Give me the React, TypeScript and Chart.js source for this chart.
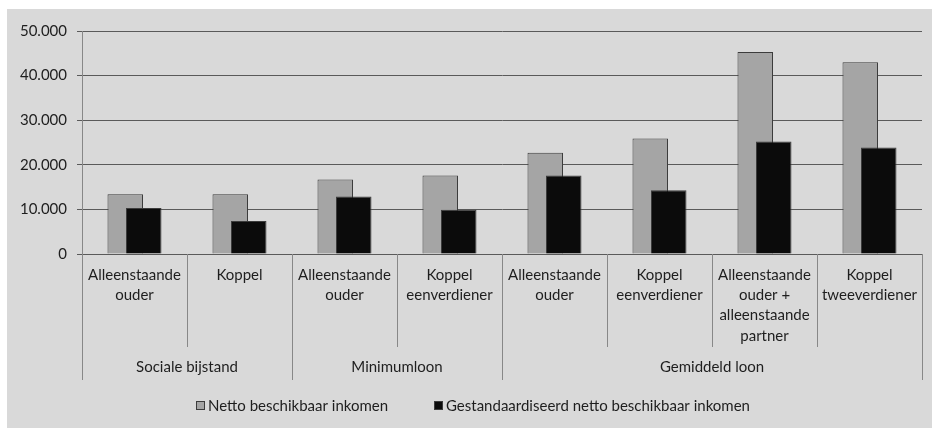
import React, { useEffect, useRef } from "react";
import { Chart, registerables } from "chart.js";

Chart.register(...registerables);

const categoryLabels: string[][] = [
  ["Alleenstaande", "ouder"],
  ["Koppel"],
  ["Alleenstaande", "ouder"],
  ["Koppel", "eenverdiener"],
  ["Alleenstaande", "ouder"],
  ["Koppel", "eenverdiener"],
  ["Alleenstaande", "ouder +", "alleenstaande", "partner"],
  ["Koppel", "tweeverdiener"],
];
const groupLabels = ["Sociale bijstand", "Minimumloon", "Gemiddeld loon"];
const groupSizes = [2, 2, 4];
const seriesNames = ["Netto beschikbaar inkomen", "Gestandaardiseerd netto beschikbaar inkomen"];
const nettoValues = [13400, 13400, 16700, 17600, 22700, 25900, 45300, 43000];
const standardValues = [10300, 7400, 12900, 9900, 17600, 14300, 25200, 23900];
const yMin = 0;
const yMax = 50000;
const yStep = 10000;

const FONT = "Lato";
const TEXT = "#1e1e1e";
const GRAY_FILL = "#a5a5a5";
const BLACK_FILL = "#0b0b0b";
const BAR_BORDER = "#3c3c3c";
const SEP = "#888888";

function fmt(v: number): string {
  return String(v).replace(/\B(?=(\d{3})+(?!\d))/g, ".");
}

const backgroundPlugin = {
  id: "bgPanel",
  beforeDraw(chart: any) {
    const { ctx, width, height } = chart;
    ctx.save();
    ctx.fillStyle = "#ffffff";
    ctx.fillRect(0, 0, width, height);
    ctx.fillStyle = "#d9d9d9";
    ctx.fillRect(7, 9, width - 7, height - 9);
    ctx.restore();
  },
};

// draw datasets in index order so the second (black) series overlaps the first
const drawOrderPlugin = {
  id: "drawOrder",
  beforeDatasetsDraw(chart: any) {
    const n = chart.data.datasets.length;
    for (let i = 0; i < n; i++) {
      const meta = chart.getDatasetMeta(i);
      if (meta.visible !== false && !meta.hidden) meta.controller.draw();
    }
    return false;
  },
};

const axisPlugin = {
  id: "multiLevelAxis",
  afterDraw(chart: any) {
    const { ctx, chartArea } = chart;
    const xs = chart.scales.x;
    const n = categoryLabels.length;
    const centers = categoryLabels.map((_, i) => xs.getPixelForValue(i));
    const half = (centers[1] - centers[0]) / 2;
    const edge = (i: number) => (i === 0 ? centers[0] - half : i === n ? centers[n - 1] + half : (centers[i - 1] + centers[i]) / 2);
    const base = chartArea.bottom;

    // group boundaries
    const groupEdges: number[] = [0];
    groupSizes.forEach((s) => groupEdges.push(groupEdges[groupEdges.length - 1] + s));

    ctx.save();
    ctx.strokeStyle = SEP;
    ctx.lineWidth = 1;
    for (let i = 0; i <= n; i++) {
      const isGroup = groupEdges.includes(i);
      const x = Math.round(edge(i)) + 0.5;
      ctx.beginPath();
      ctx.moveTo(x, base);
      ctx.lineTo(x, base + (isGroup ? 126 : 93));
      ctx.stroke();
    }

    ctx.fillStyle = TEXT;
    ctx.textAlign = "center";
    ctx.textBaseline = "middle";
    ctx.font = `15px ${FONT}`;
    categoryLabels.forEach((lines, i) => {
      lines.forEach((line, j) => {
        ctx.fillText(line, centers[i], base + 21 + j * 20.3);
      });
    });
    groupLabels.forEach((g, k) => {
      const x = (edge(groupEdges[k]) + edge(groupEdges[k + 1])) / 2;
      ctx.fillText(g, x, base + 113);
    });

    // legend
    ctx.font = `15px ${FONT}`;
    ctx.textAlign = "left";
    const ly = 405.5;
    const items = [
      { x: 196, fill: GRAY_FILL },
      { x: 434, fill: BLACK_FILL },
    ];
    items.forEach((it, i) => {
      ctx.fillStyle = it.fill;
      ctx.fillRect(it.x, ly - 4.5, 9, 9);
      ctx.strokeStyle = BAR_BORDER;
      ctx.strokeRect(it.x + 0.5, ly - 4, 8, 8);
      ctx.fillStyle = TEXT;
      ctx.fillText(chart.data.datasets[i].label, it.x + 12, ly + 0.5);
    });
    ctx.restore();
  },
};

export default function App() {
  const ref = useRef<HTMLCanvasElement | null>(null);
  useEffect(() => {
    document.body.style.margin = "0";
    const canvas = ref.current;
    if (!canvas) return;
    const chart = new Chart(canvas, {
      type: "bar",
      data: {
        labels: categoryLabels,
        datasets: [
          {
            label: seriesNames[0],
            data: nettoValues,
            backgroundColor: GRAY_FILL,
            borderColor: BAR_BORDER,
            borderWidth: 1,
          },
          {
            label: seriesNames[1],
            data: standardValues,
            backgroundColor: BLACK_FILL,
            borderColor: BAR_BORDER,
            borderWidth: 1,
          },
        ],
      },
      options: {
        responsive: false,
        animation: false,
        devicePixelRatio: 1,
        layout: { padding: { left: 0, top: 31, right: 10, bottom: 174 } },
        datasets: {
          bar: { categoryPercentage: 0.3524, barPercentage: 1.92 },
        },
        scales: {
          x: {
            display: false,
            offset: true,
          },
          y: {
            min: yMin,
            max: yMax,
            afterFit(scale: any) {
              scale.width = 82;
            },
            ticks: {
              stepSize: yStep,
              padding: 10,
              color: TEXT,
              font: { family: FONT, size: 15 },
              callback: (v: any) => fmt(Number(v)),
            },
            grid: {
              color: "#5a5a5a",
              lineWidth: 1,
              tickLength: 5,
            },
            border: { color: SEP, width: 1 },
          },
        },
        plugins: {
          legend: { display: false },
          tooltip: { enabled: false },
        },
      },
      plugins: [backgroundPlugin, drawOrderPlugin, axisPlugin],
    });
    return () => chart.destroy();
  }, []);
  return (
    <div style={{ width: 932, height: 428 }}>
      <canvas ref={ref} width={932} height={428} style={{ width: 932, height: 428, display: "block" }} />
    </div>
  );
}
